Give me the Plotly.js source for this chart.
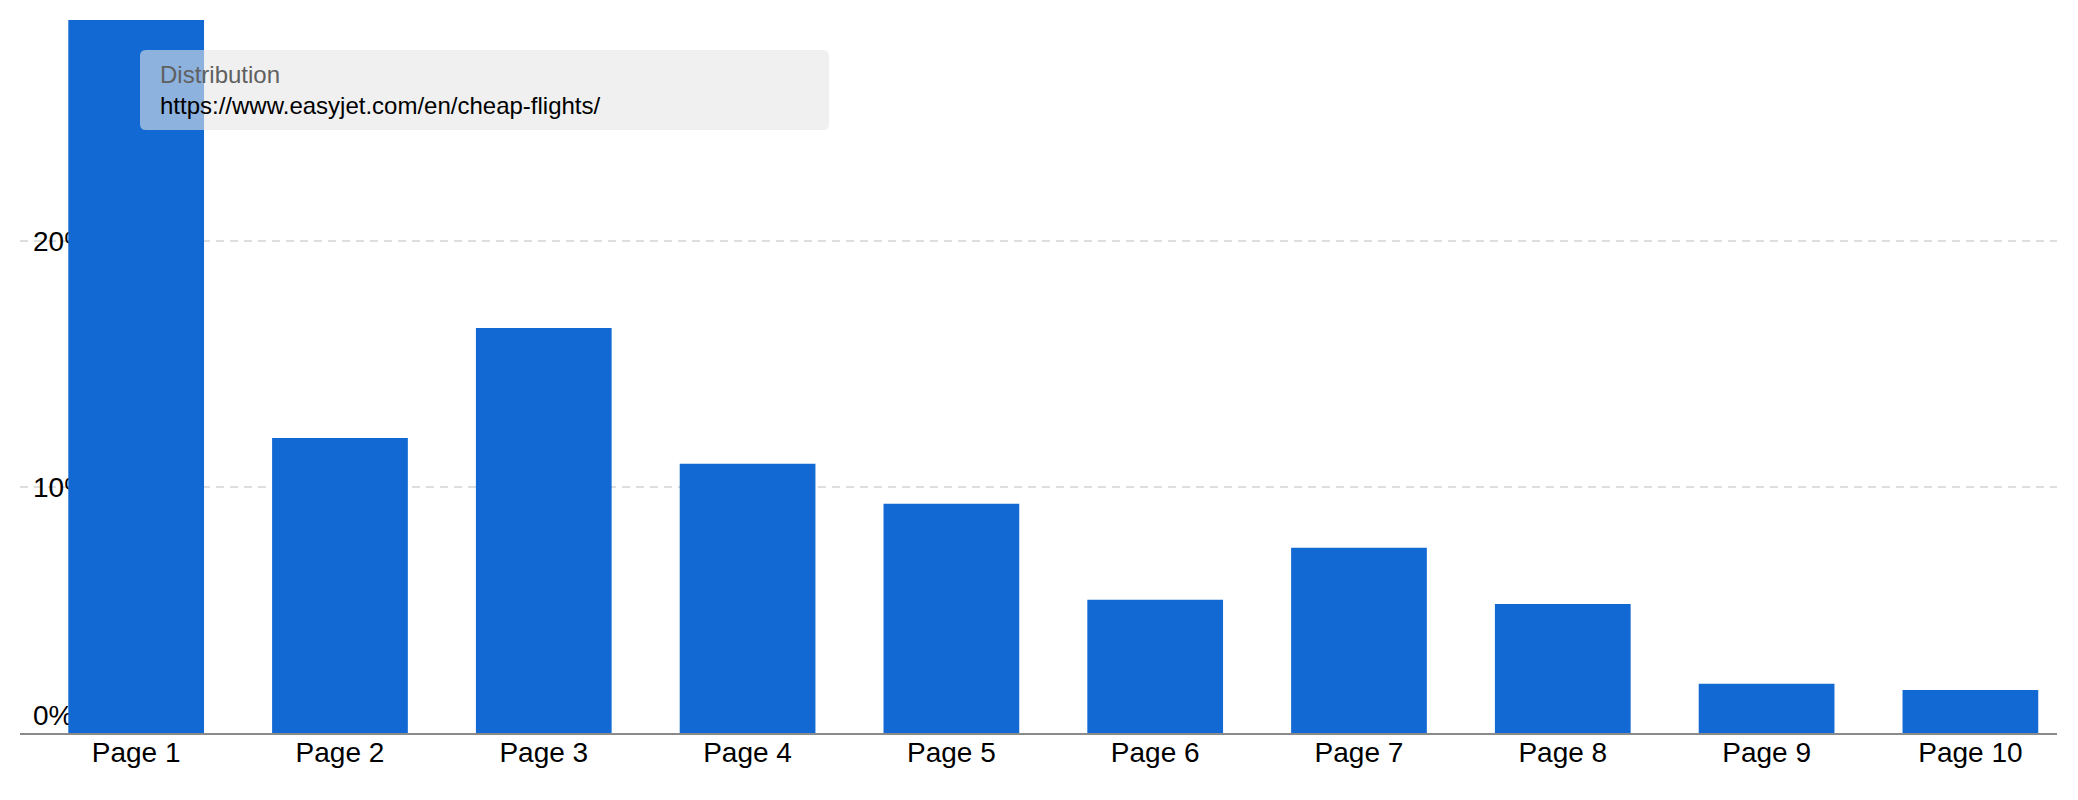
<!DOCTYPE html>
<html>
<head>
<meta charset="utf-8">
<script src="https://cdn.plot.ly/plotly-3.0.1.min.js"></script>
<style>
  html, body { margin: 0; padding: 0; background: #ffffff; }
  #chart { width: 2078px; height: 800px; }
</style>
</head>
<body>
<div id="chart"></div>
<script>
// ---- Data ----
const pages = ["Page 1", "Page 2", "Page 3", "Page 4", "Page 5", "Page 6", "Page 7", "Page 8", "Page 9", "Page 10"];
const distribution = [29.0, 12.0, 16.47, 10.95, 9.32, 5.42, 7.53, 5.25, 2.0, 1.75];
const yTickVals = [0, 10, 20];
const yTickText = ["0%<br>&nbsp;", "10%", "20%"];
const tooltipTitle = "Distribution";
const tooltipUrl = "https://www.easyjet.com/en/cheap-flights/";

// ---- Layout helpers (pixel geometry -> paper coords) ----
const W = 2078, H = 800;
const M = { l: 20, r: 21, t: 20, b: 67 };
const plotW = W - M.l - M.r, plotH = H - M.t - M.b;
const px = x => (x - M.l) / plotW;
const py = y => (H - M.b - y) / plotH;

// rounded tooltip box (pixels)
const bx0 = 140, bx1 = 829, by0 = 50, by1 = 130, rad = 6;
function roundedPath() {
  const rx = rad / plotW, ry = rad / plotH;
  const x0 = px(bx0), x1 = px(bx1), yT = py(by0), yB = py(by1);
  return `M ${x0 + rx} ${yT} L ${x1 - rx} ${yT} Q ${x1} ${yT} ${x1} ${yT - ry} ` +
         `L ${x1} ${yB + ry} Q ${x1} ${yB} ${x1 - rx} ${yB} ` +
         `L ${x0 + rx} ${yB} Q ${x0} ${yB} ${x0} ${yB + ry} ` +
         `L ${x0} ${yT - ry} Q ${x0} ${yT} ${x0 + rx} ${yT} Z`;
}

const FONT = "Liberation Sans, Arial, Helvetica, sans-serif";
const YMAX = 29.0;

const trace = {
  type: "bar",
  x: pages,
  y: distribution,
  marker: { color: "#1369d4", line: { width: 0 } },
  hoverinfo: "none"
};

const layout = {
  width: W, height: H,
  margin: M,
  paper_bgcolor: "#ffffff",
  plot_bgcolor: "#ffffff",
  bargap: 0.334,
  showlegend: false,
  font: { family: FONT, size: 28, color: "#000000" },
  xaxis: {
    type: "category",
    range: [-0.57, 9.425],
    showline: true, linecolor: "#8a8a8a", linewidth: 2,
    ticks: "", showgrid: false, zeroline: false,
    ticklabelstandoff: -7,
    tickfont: { family: FONT, size: 28, color: "#000000" },
    fixedrange: true
  },
  yaxis: {
    range: [0, YMAX],
    tickvals: yTickVals, ticktext: yTickText,
    ticklabelposition: "inside",
    ticklabeloverflow: "allow",
    ticks: "",
    ticklabelstandoff: 10,
    layer: "below traces",
    showgrid: true, gridcolor: "#dedede", gridwidth: 2, griddash: "8px,6px",
    zeroline: false, showline: false,
    tickfont: { family: FONT, size: 28, color: "#000000" },
    fixedrange: true
  },
  shapes: [{
    type: "path", xref: "paper", yref: "paper",
    path: roundedPath(),
    fillcolor: "rgba(230,230,230,0.59)",
    line: { width: 0 },
    layer: "above"
  }],
  annotations: [
    {
      xref: "paper", yref: "paper", x: px(157.5), y: py(74),
      xanchor: "left", yanchor: "middle", showarrow: false,
      text: tooltipTitle, font: { family: FONT, size: 24, color: "#606060" }
    },
    {
      xref: "paper", yref: "paper", x: px(157.5), y: py(105),
      xanchor: "left", yanchor: "middle", showarrow: false,
      text: tooltipUrl, font: { family: FONT, size: 24, color: "#000000" }
    }
  ]
};

Plotly.newPlot("chart", [trace], layout, { staticPlot: true, displayModeBar: false });
</script>
</body>
</html>
